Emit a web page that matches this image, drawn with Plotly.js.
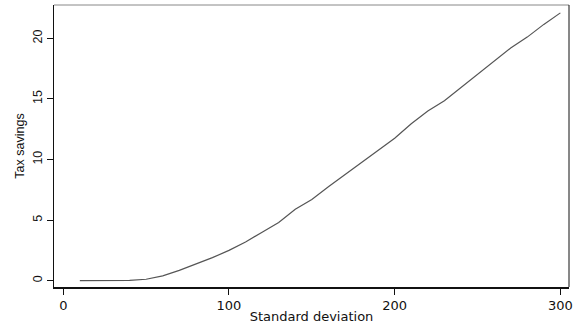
<!DOCTYPE html>
<html>
<head>
<meta charset="utf-8">
<script src="https://cdn.plot.ly/plotly-3.0.1.min.js"></script>
<style>html,body{margin:0;padding:0;background:#fff;}#chart{width:581px;height:325px;}</style>
</head>
<body>
<div id="chart"></div>
<script>
const stdDev = [10,20,30,40,50,60,70,80,90,100,110,120,130,140,150,160,170,180,190,200,210,220,230,240,250,260,270,280,290,300];
const taxSavings = [0.0,0.0,0.0,0.02,0.12,0.4,0.85,1.35,1.9,2.5,3.2,4.0,4.8,5.9,6.7,7.75,8.75,9.75,10.75,11.75,12.95,14.0,14.85,15.95,17.0,18.1,19.2,20.1,21.15,22.1];
const xTicks = [0,100,200,300];
const yTicks = [0,5,10,15,20];

const trace = {
  x: stdDev, y: taxSavings, type: 'scatter', mode: 'lines',
  line: {color: '#555555', width: 1.2}, hoverinfo: 'skip'
};
const xFont = {family: 'DejaVu Sans', size: 13, color: '#111'};
const yFont = {family: 'Liberation Sans, Arial', size: 12.5, color: '#111'};
const layout = {
  width: 581, height: 325,
  margin: {l: 54, r: 12, t: 5, b: 38},
  paper_bgcolor: '#fff', plot_bgcolor: '#fff',
  showlegend: false,
  xaxis: {
    range: [-5.6, 305.2], tickvals: xTicks, ticktext: xTicks.map(String),
    showgrid: false, zeroline: false, showline: true, linecolor: '#111', linewidth: 1.5,
    ticks: 'outside', ticklen: 6, tickwidth: 1, tickcolor: '#111',
    tickfont: xFont,
    title: {text: 'Standard deviation', font: xFont, standoff: 0}
  },
  yaxis: {
    range: [-0.52, 22.75], tickvals: yTicks, ticktext: yTicks.map(String),
    showgrid: false, zeroline: false, showline: true, linecolor: '#111', linewidth: 1.5,
    ticks: 'outside', ticklen: 6, tickwidth: 1, tickcolor: '#111',
    tickangle: -90, tickfont: yFont,
    title: {text: 'Tax savings', font: yFont, standoff: 3}
  },
  shapes: [
    {type: 'line', xref: 'paper', yref: 'paper', x0: 0, x1: 1, y0: 1, y1: 1, line: {color: '#888', width: 1}},
    {type: 'line', xref: 'paper', yref: 'paper', x0: 1, x1: 1, y0: 0, y1: 1, line: {color: '#111', width: 1}}
  ]
};
Plotly.newPlot('chart', [trace], layout, {displayModeBar: false, staticPlot: true});
</script>
</body>
</html>
